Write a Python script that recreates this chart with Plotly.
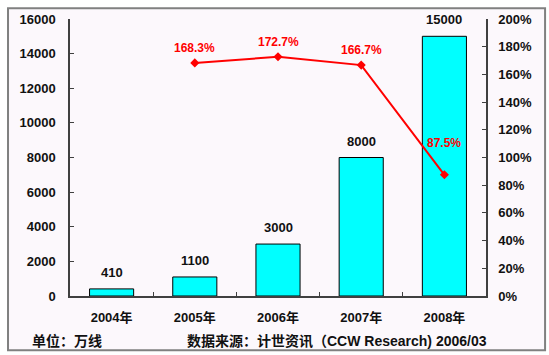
import plotly.graph_objects as go

categories = ["2004年", "2005年", "2006年", "2007年", "2008年"]
users = [410, 1100, 3000, 8000, 15000]
growth = [None, 168.3, 172.7, 166.7, 87.5]
growth_labels = ["", "168.3%", "172.7%", "166.7%", "87.5%"]
left_ticks = [0, 2000, 4000, 6000, 8000, 10000, 12000, 14000, 16000]
left_tick_text = [str(v) for v in left_ticks]
right_ticks = [0, 20, 40, 60, 80, 100, 120, 140, 160, 180, 200]
right_tick_text = [f"{v}%" for v in right_ticks]
unit_text = "单位：万线"
source_text = "数据来源：计世资讯（CCW Research) 2006/03"

FONT = "Liberation Sans, Arial, Noto Sans CJK SC, sans-serif"
MIX = "Liberation Sans, Noto Sans CJK SC, sans-serif"
BG = "#FCF8FC"
INK = "#111111"

fig = go.Figure()
fig.add_trace(go.Bar(
    x=categories, y=users, width=0.53,
    marker=dict(color="#00FFFF", line=dict(color="#000000", width=1)),
    yaxis="y", hoverinfo="skip",
))
for c, v in zip(categories, users):
    fig.add_annotation(x=c, y=v, yref="y", text=str(v), showarrow=False,
                       yanchor="bottom", yshift=7,
                       font=dict(family=FONT, size=13, color=INK, weight="bold"))

fig.add_trace(go.Scatter(
    x=categories, y=growth, yaxis="y2", mode="lines+markers",
    line=dict(color="#FF0000", width=2),
    marker=dict(symbol="diamond", size=7, color="#FF0000"),
    cliponaxis=False, hoverinfo="skip",
))
yshifts = [0, 15, 15, 15, 32]
for c, g, t, s in zip(categories, growth, growth_labels, yshifts):
    if g is None:
        continue
    fig.add_annotation(x=c, y=g, yref="y2", text=t, showarrow=False,
                       yshift=s, font=dict(family=FONT, size=12, color="#FF0000", weight="bold"))

fig.add_annotation(xref="paper", yref="paper", x=-0.096, y=-0.161, xanchor="left", yanchor="middle",
                   text=unit_text, showarrow=False,
                   font=dict(family=MIX, size=14, color=INK, weight="bold"))
fig.add_annotation(xref="paper", yref="paper", x=0.276, y=-0.161, xanchor="left", yanchor="middle",
                   text=source_text, showarrow=False,
                   font=dict(family=MIX, size=14, color=INK, weight="bold"))

fig.add_shape(type="rect", xref="paper", yref="paper", x0=-0.149, x1=1.142, y0=-0.196, y1=1.039,
              line=dict(color="#808080", width=2), fillcolor=BG, layer="below")

fig.update_layout(
    width=549, height=355,
    margin=dict(l=70, r=63, t=16, b=59),
    paper_bgcolor="#FFFFFF", plot_bgcolor="rgba(0,0,0,0)",
    showlegend=False,
    xaxis=dict(type="category", showline=True, linecolor="#404040", linewidth=1.5,
               ticks="inside", tickson="boundaries", ticklen=4, tickcolor="#404040",
               tickfont=dict(family=MIX, size=13, color=INK, weight="bold"),
               ticklabelstandoff=9, showgrid=False, zeroline=False),
    yaxis=dict(range=[0, 16000], tickvals=left_ticks, ticktext=left_tick_text,
               showline=True, linecolor="#404040", linewidth=1.5,
               ticks="inside", ticklen=4, tickcolor="#404040", showgrid=False, zeroline=False,
               tickfont=dict(family=FONT, size=13, color=INK, weight="bold"),
               ticklabelstandoff=10),
    yaxis2=dict(range=[0, 200], overlaying="y", side="right", tickvals=right_ticks, ticktext=right_tick_text,
                showline=True, linecolor="#404040", linewidth=1.5, ticks="inside", ticklen=4,
                tickcolor="#404040", showgrid=False, zeroline=False,
                tickfont=dict(family=FONT, size=13, color=INK, weight="bold"),
                ticklabelstandoff=8),
)
fig.write_html("out.html", config={"displayModeBar": False},
               post_script="document.body.style.margin='0';document.body.style.background='#FFFFFF';")
